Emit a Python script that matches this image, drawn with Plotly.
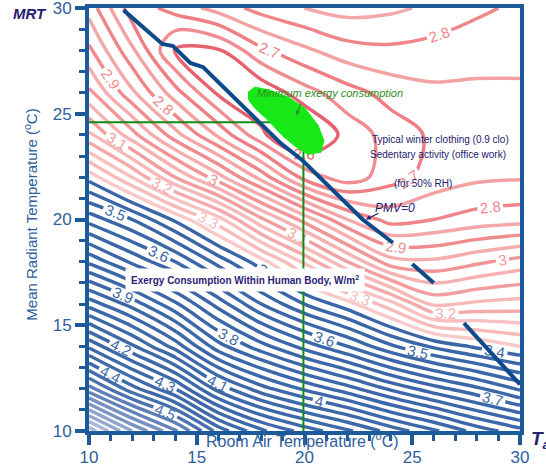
import plotly.graph_objects as go

# ---------------- data ----------------
ta = [10, 12, 14, 16, 18, 20, 22, 24, 26, 28, 30]          # room air temperature
mrt = [10, 12, 14, 16, 18, 20, 22, 24, 26, 28, 30]         # mean radiant temperature
# exergy consumption (W/m2), rows = mrt, cols = ta
exergy = [
    [4.93, 4.75, 4.61, 4.43, 4.31, 4.23, 4.16, 4.08, 4.01, 3.93, 3.87],
    [4.57, 4.42, 4.30, 4.13, 4.02, 3.94, 3.87, 3.79, 3.72, 3.66, 3.59],
    [4.29, 4.16, 4.03, 3.87, 3.77, 3.68, 3.60, 3.51, 3.44, 3.39, 3.35],
    [4.03, 3.93, 3.81, 3.68, 3.55, 3.45, 3.37, 3.27, 3.14, 3.16, 3.17],
    [3.79, 3.69, 3.60, 3.48, 3.37, 3.24, 3.10, 2.97, 2.96, 2.99, 3.02],
    [3.58, 3.50, 3.39, 3.27, 3.11, 2.98, 2.85, 2.78, 2.80, 2.82, 2.83],
    [3.38, 3.25, 3.10, 2.97, 2.83, 2.68, 2.62, 2.68, 2.72, 2.74, 2.745],
    [3.16, 3.02, 2.87, 2.74, 2.61, 2.53, 2.62, 2.67, 2.71, 2.73, 2.74],
    [3.01, 2.86, 2.72, 2.59, 2.56, 2.63, 2.68, 2.72, 2.74, 2.74, 2.74],
    [2.91, 2.76, 2.59, 2.595, 2.69, 2.74, 2.78, 2.79, 2.78, 2.77, 2.77],
    [2.83, 2.67, 2.72, 2.77, 2.82, 2.85, 2.87, 2.86, 2.84, 2.81, 2.79],
]

# PMV = 0 line
pmv_ta = [11.6, 13.4, 13.9, 14.7, 15.3, 16.4, 18.9, 19.9, 22.7, 24.1, None, 25.0, 26.0, None, 27.4, 30.0]
pmv_mrt = [29.9, 28.3, 28.2, 27.4, 27.2, 26.1, 23.6, 22.8, 20.0, 18.9, None, 17.9, 17.0, None, 15.1, 12.2]

# optimum point guide lines
opt_ta = [10, 19.95, 19.95]
opt_mrt = [24.6, 24.6, 10]

# minimum exergy consumption region
blob_ta = [17.38, 17.70, 18.40, 19.33, 20.02, 20.63, 20.90, 20.77, 20.16, 19.56, 18.96, 18.31, 17.70, 17.38]
blob_mrt = [26.02, 26.26, 26.11, 25.73, 25.26, 24.45, 23.74, 23.18, 23.08, 23.46, 23.98, 24.69, 25.26, 25.69]

x_ticks = [10, 15, 20, 25, 30]
y_ticks = [10, 15, 20, 25, 30]

# ---------------- style ----------------
FRAME = "#1c5a9a"
AXTXT = "#2f609c"
NAVY = "#23206e"
FONT = "Liberation Sans"
NARROW = "Liberation Sans Narrow, Liberation Sans, Arial"

zmin, zmax = 2.5, 5.0

def tpos(v):
    return (v - zmin) / (zmax - zmin)

cs_main = [
    [0.0, "rgb(224,76,96)"],
    [tpos(2.6), "rgb(230,96,110)"],
    [tpos(2.7), "rgb(238,126,132)"],
    [tpos(2.9), "rgb(240,140,142)"],
    [tpos(3.15), "rgb(244,162,162)"],
    [tpos(3.3), "rgb(247,186,186)"],
    [tpos(3.37), "rgb(248,196,196)"],
    [tpos(3.38), "rgb(58,102,168)"],
    [tpos(4.45), "rgb(62,106,170)"],
    [tpos(4.65), "rgb(110,138,190)"],
    [tpos(4.85), "rgb(160,178,212)"],
    [1.0, "rgb(188,198,224)"],
]
cs_half = [
    [0.0, "rgb(236,120,130)"],
    [tpos(2.7), "rgb(243,160,162)"],
    [tpos(2.9), "rgb(245,172,172)"],
    [tpos(3.15), "rgb(247,185,185)"],
    [tpos(3.37), "rgb(249,204,204)"],
    [tpos(3.38), "rgb(58,102,168)"],
    [tpos(4.45), "rgb(62,106,170)"],
    [tpos(4.65), "rgb(110,138,190)"],
    [tpos(4.85), "rgb(160,178,212)"],
    [1.0, "rgb(188,198,224)"],
]

fig = go.Figure()

fig.add_trace(go.Contour(
    x=ta, y=mrt, z=exergy,
    zmin=zmin, zmax=zmax, colorscale=cs_half, showscale=False,
    contours=dict(coloring="lines", start=2.55, end=4.95, size=0.1, showlabels=False),
    line=dict(width=3.4, smoothing=1.0),
    hoverinfo="skip",
))
fig.add_trace(go.Contour(
    x=ta, y=mrt, z=exergy,
    zmin=zmin, zmax=zmax, colorscale=cs_main, showscale=False,
    contours=dict(coloring="lines", start=2.5, end=5.0, size=0.1, showlabels=True,
                  labelfont=dict(family=FONT, size=15), labelformat=".2~g"),
    line=dict(width=3.4, smoothing=1.0),
    hoverinfo="skip",
))

# green optimum guide lines
fig.add_trace(go.Scatter(x=opt_ta, y=opt_mrt, mode="lines",
                         line=dict(color="#138a13", width=2), hoverinfo="skip"))
# minimum exergy region
fig.add_trace(go.Scatter(x=blob_ta, y=blob_mrt, mode="lines", fill="toself",
                         fillcolor="rgb(24,232,24)", line=dict(color="rgb(24,232,24)", width=1),
                         hoverinfo="skip"))
# PMV line
fig.add_trace(go.Scatter(x=pmv_ta, y=pmv_mrt, mode="lines",
                         line=dict(color="#0d4a8a", width=4), hoverinfo="skip"))

ann = []
ann.append(dict(xref="paper", yref="paper", x=-0.137, y=0.986, xanchor="center", yanchor="middle",
                text="<b><i>MRT</i></b>", showarrow=False,
                font=dict(family=FONT, size=15, color=NAVY)))
ann.append(dict(xref="paper", yref="paper", x=1.021, y=-0.021, xanchor="left", yanchor="middle",
                text="<b><i>T<sub>a</sub></i></b>", showarrow=False,
                font=dict(family=FONT, size=19, color=NAVY)))
ann.append(dict(xref="paper", yref="paper", x=-0.135, y=0.511, xanchor="center", yanchor="middle",
                text="Mean Radiant Temperature (<sup>o</sup>C)", textangle=-90,
                showarrow=False, font=dict(family=FONT, size=15, color=AXTXT)))
ann.append(dict(xref="paper", yref="paper", x=0.4965, y=-0.022, xanchor="center", yanchor="middle",
                text="Room Air Temperature (<sup>o</sup>C)", showarrow=False,
                font=dict(family=FONT, size=16, color=AXTXT)))
ann.append(dict(x=21.2, y=25.98, text="<i>Minimum exergy consumption</i>", showarrow=False,
                font=dict(family=NARROW, size=11, color="#2f8f22")))
ann.append(dict(x=19.62, y=24.92, text="", showarrow=True, arrowhead=2, arrowsize=0.8,
                arrowwidth=1.2, arrowcolor="#2f8f22", ax=5, ay=-13))
ann.append(dict(x=26.29, y=23.76, text="Typical winter clothing (0.9 clo)", showarrow=False,
                font=dict(family=NARROW, size=10, color=NAVY)))
ann.append(dict(x=26.19, y=23.05, text="Sedentary activity (office work)", showarrow=False,
                font=dict(family=NARROW, size=10, color=NAVY)))
ann.append(dict(x=25.5, y=21.68, text="(for 50% RH)", showarrow=False,
                font=dict(family=NARROW, size=10, color=NAVY)))
ann.append(dict(x=24.2, y=20.55, text="<i>PMV=0</i>", showarrow=False,
                font=dict(family=FONT, size=12, color=NAVY)))
ann.append(dict(x=22.85, y=20.0, text="", showarrow=True, arrowhead=2, arrowsize=0.8,
                arrowwidth=1.2, arrowcolor=NAVY, ax=14, ay=-7))
ann.append(dict(x=17.24, y=17.15, text="<b>Exergy Consumption Within Human Body, W/m<sup>2</sup></b>",
                showarrow=False, bgcolor="white", borderpad=5,
                font=dict(family=NARROW, size=10, color="#2d1d78")))

axis_common = dict(
    range=[10, 30], showgrid=False, zeroline=False, automargin=False,
    showline=True, linewidth=4, linecolor=FRAME, mirror=True,
    ticks="outside", ticklen=10, tickwidth=4, tickcolor=FRAME,
    tickmode="array", ticklabeloverflow="allow",
    minor=dict(ticks="outside", ticklen=6, tickwidth=3, tickcolor=FRAME, dtick=1, tick0=10),
    tickfont=dict(family=FONT, size=17, color=AXTXT),
)

fig.update_layout(
    width=546, height=471,
    margin=dict(l=89, r=26, t=8, b=40),
    paper_bgcolor="white", plot_bgcolor="white",
    showlegend=False,
    xaxis=dict(**axis_common, tickvals=x_ticks, ticktext=[str(v) for v in x_ticks], ticklabelstandoff=-2),
    yaxis=dict(**axis_common, tickvals=y_ticks, ticktext=[str(v) for v in y_ticks]),
    annotations=ann,
    font=dict(family=FONT),
)

# remove the default 8 px page margin so the 546x471 figure fills the window exactly
fig.write_html("out.html", config={"displayModeBar": False},
               post_script="document.body.style.margin='0px';")
